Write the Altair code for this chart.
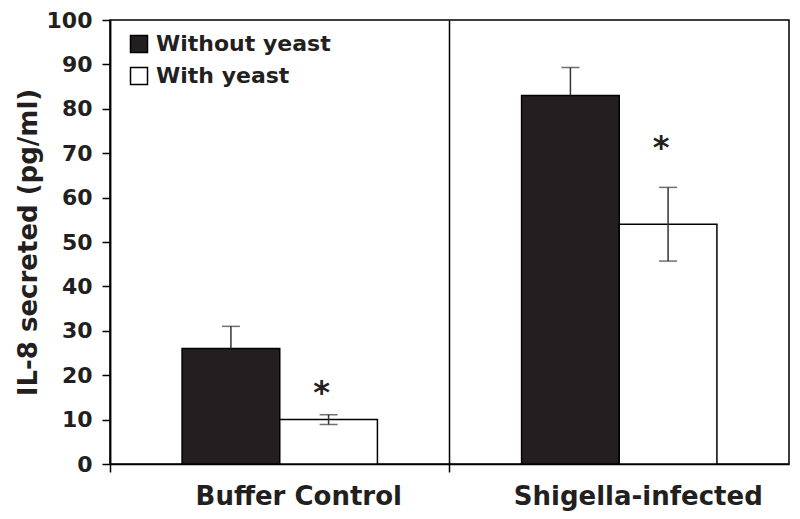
import altair as alt
import pandas as pd

groups = ["Buffer Control", "Shigella-infected"]
treatments = ["Without yeast", "With yeast"]

bar_group = ["Buffer Control", "Buffer Control", "Shigella-infected", "Shigella-infected"]
bar_treat = ["Without yeast", "With yeast", "Without yeast", "With yeast"]
means = [26.0, 10.0, 83.0, 54.0]
lower = [26.0, 8.9, 83.0, 45.7]
upper = [31.0, 11.1, 89.3, 62.3]

star_group = ["Buffer Control", "Shigella-infected"]
star_treat = ["With yeast", "With yeast"]
star_y = [17.0, 72.0]

y_ticks = list(range(0, 101, 10))

FONT = "DejaVu Sans"
DARK = "#231f20"

df = pd.DataFrame({"group": bar_group, "treatment": bar_treat,
                   "mean": means, "lower": lower, "upper": upper})
caps_low = df[df["lower"] < df["mean"]]
stars = pd.DataFrame({"group": star_group, "treatment": star_treat, "y": star_y, "t": ["*"] * 2})

x_enc = alt.X("group:N", sort=groups,
              scale=alt.Scale(paddingInner=0, paddingOuter=0),
              axis=alt.Axis(title=None, bandPosition=0, labelOffset=19, labelLimit=0,
                            grid=True, gridColor="black", gridWidth=1.5, gridOpacity=1,
                            tickSize=8, tickColor="black", tickWidth=1.5,
                            domainColor="black", domainWidth=1.5,
                            labelAngle=0, labelFont=FONT, labelFontWeight="bold",
                            labelFontSize=26, labelColor="#231f20", labelPadding=11))
xo_enc = alt.XOffset("treatment:N", sort=treatments,
                     scale=alt.Scale(paddingOuter=0.738, paddingInner=0))
y_scale = alt.Scale(domain=[0, 100], nice=False)

bars = alt.Chart(df).mark_bar(stroke="black", strokeWidth=1.5).encode(
    x=x_enc,
    xOffset=xo_enc,
    y=alt.Y("mean:Q", scale=y_scale,
            axis=alt.Axis(title="IL-8 secreted (pg/ml)", values=y_ticks, grid=False,
                          tickSize=8, tickColor="black", tickWidth=1.5,
                          domainColor="black", domainWidth=1.5,
                          labelFont=FONT, labelFontWeight="bold", labelFontSize=22,
                          labelColor="#231f20", labelPadding=10,
                          titleFont=FONT, titleFontWeight="bold", titleFontSize=26,
                          titleColor="#231f20", titlePadding=5)),
    color=alt.Color("treatment:N", sort=treatments,
                    scale=alt.Scale(domain=treatments, range=[DARK, "#ffffff"]),
                    legend=alt.Legend(title=None, orient="none", legendX=18, legendY=13,
                                      symbolType="square", symbolSize=289,
                                      symbolStrokeColor="black", symbolStrokeWidth=1.5,
                                      symbolOpacity=1, labelLimit=0,
                                      labelFont=FONT, labelFontWeight="bold",
                                      labelFontSize=22, labelColor="#231f20",
                                      labelOffset=6, rowPadding=8, padding=0)),
)

rules = alt.Chart(df).mark_rule(color="#333333", strokeWidth=1.5).encode(
    x=alt.X("group:N", sort=groups), xOffset=alt.XOffset("treatment:N", sort=treatments),
    y=alt.Y("lower:Q"), y2="upper:Q")

caps_up = alt.Chart(df).mark_tick(color="#333333", size=18, thickness=1.5).encode(
    x=alt.X("group:N", sort=groups), xOffset=alt.XOffset("treatment:N", sort=treatments),
    y=alt.Y("upper:Q"))

caps_down = alt.Chart(caps_low).mark_tick(color="#333333", size=18, thickness=1.5).encode(
    x=alt.X("group:N", sort=groups), xOffset=alt.XOffset("treatment:N", sort=treatments),
    y=alt.Y("lower:Q"))

star_text = alt.Chart(stars).mark_text(font=FONT, fontWeight="bold", fontSize=32,
                                       color="#231f20", baseline="middle", dy=4, dx=-7).encode(
    x=alt.X("group:N", sort=groups), xOffset=alt.XOffset("treatment:N", sort=treatments),
    y=alt.Y("y:Q"), text="t:N")

chart = alt.layer(bars, rules, caps_up, caps_down, star_text).properties(
    width=679, height=444,
    autosize=alt.AutoSizeParams(type="none"),
    padding={"left": 102, "top": 12, "right": 3, "bottom": 47},
    background="white",
).configure_view(stroke="black", strokeWidth=1.5)

chart.save("out.html", embed_options={"renderer": "svg", "actions": False})
